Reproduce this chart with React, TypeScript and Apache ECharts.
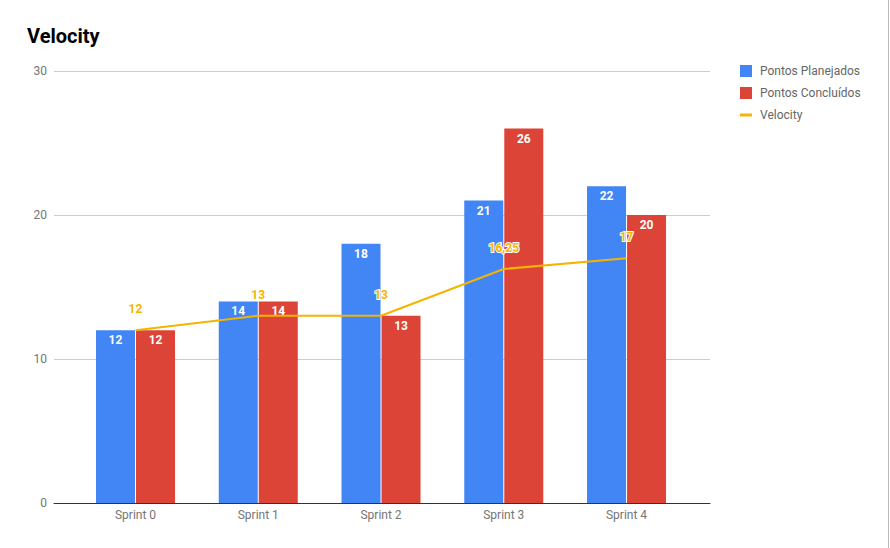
import React, { useEffect, useRef } from "react";
import * as echarts from "echarts";

const categories = ["Sprint 0", "Sprint 1", "Sprint 2", "Sprint 3", "Sprint 4"];
const planejados = [12, 14, 18, 21, 22];
const concluidos = [12, 14, 13, 26, 20];
const velocity = [12, 13, 13, 16.25, 17];
const yTicks = [0, 10, 20, 30];

const FONT = "Roboto";
const fmtNum = (v: number) => String(v).replace(".", ",");

export default function App() {
  const ref = useRef<HTMLDivElement>(null);
  useEffect(() => {
    if (!ref.current) return;
    const chart = echarts.init(ref.current, undefined, { renderer: "svg" });
    const barLabel = {
      show: true,
      position: "insideTop",
      distance: 4,
      color: "#fff",
      fontFamily: FONT,
      fontSize: 12,
      fontWeight: "bold",
      formatter: (p: any) => fmtNum(p.value[1]),
    };
    chart.setOption({
      animation: false,
      textStyle: { fontFamily: FONT },
      title: {
        text: "Velocity",
        left: 27,
        top: 26,
        padding: 0,
        textStyle: { fontFamily: FONT, fontSize: 20, fontWeight: "bold", color: "#000" },
      },
      legend: {
        orient: "vertical",
        left: 740,
        top: 65,
        padding: 0,
        itemWidth: 12,
        itemHeight: 12,
        itemGap: 10,
        textStyle: { fontFamily: FONT, fontSize: 12, color: "#666", padding: [0, 0, 0, 3] },
        data: [
          { name: "Pontos Planejados", icon: "rect" },
          { name: "Pontos Concluídos", icon: "rect" },
          { name: "Velocity", icon: "path://M0,0H12V3H0Z" },
        ],
      },
      grid: { left: 54, right: 180, top: 71, bottom: 45, containLabel: false },
      xAxis: {
        type: "value",
        min: -0.664,
        max: 4.68,
        splitLine: { show: false },
        axisTick: { show: false },
        axisLine: { show: true, lineStyle: { color: "#333", width: 1 } },
        axisLabel: {
          customValues: categories.map((_, i) => i),
          formatter: (v: number) => categories[Math.round(v)] ?? "",
          color: "#757575",
          fontFamily: FONT,
          fontSize: 12,
          margin: 6,
        },
      },
      yAxis: {
        type: "value",
        min: yTicks[0],
        max: yTicks[yTicks.length - 1],
        interval: 10,
        axisLine: { show: false },
        axisTick: { show: false },
        splitLine: { lineStyle: { color: "#ccc", width: 1 } },
        axisLabel: { color: "#757575", fontFamily: FONT, fontSize: 12, margin: 7 },
      },
      series: [
        {
          name: "Pontos Planejados",
          type: "bar",
          barWidth: 39,
          barGap: "2.6%",
          itemStyle: { color: "#4285f4" },
          label: barLabel,
          data: planejados.map((v, i) => [i, v]),
        },
        {
          name: "Pontos Concluídos",
          type: "bar",
          barWidth: 39,
          barGap: "2.6%",
          itemStyle: { color: "#db4437" },
          label: barLabel,
          data: concluidos.map((v, i) => [i, v]),
        },
        {
          name: "Velocity",
          type: "line",
          symbol: "circle",
          symbolSize: 0.1,
          showSymbol: true,
          z: 5,
          lineStyle: { color: "#f4b400", width: 2 },
          itemStyle: { color: "#f4b400" },
          label: {
            show: true,
            position: "top",
            distance: 15,
            color: "#f4b400",
            fontFamily: FONT,
            fontSize: 12,
            fontWeight: "bold",
            textBorderColor: "#fff",
            textBorderWidth: 2,
            formatter: (p: any) => fmtNum(p.value[1]),
          },
          data: velocity.map((v, i) => [i, v]),
        },
      ],
      graphic: [
        {
          type: "line",
          shape: { x1: 888.5, y1: 0, x2: 888.5, y2: 548 },
          style: { stroke: "#bbb", lineWidth: 1 },
          silent: true,
        },
      ],
    });
    return () => chart.dispose();
  }, []);
  return (
    <div
      ref={ref}
      style={{ position: "fixed", left: 0, top: 0, width: 890, height: 548, background: "#fff" }}
    />
  );
}
